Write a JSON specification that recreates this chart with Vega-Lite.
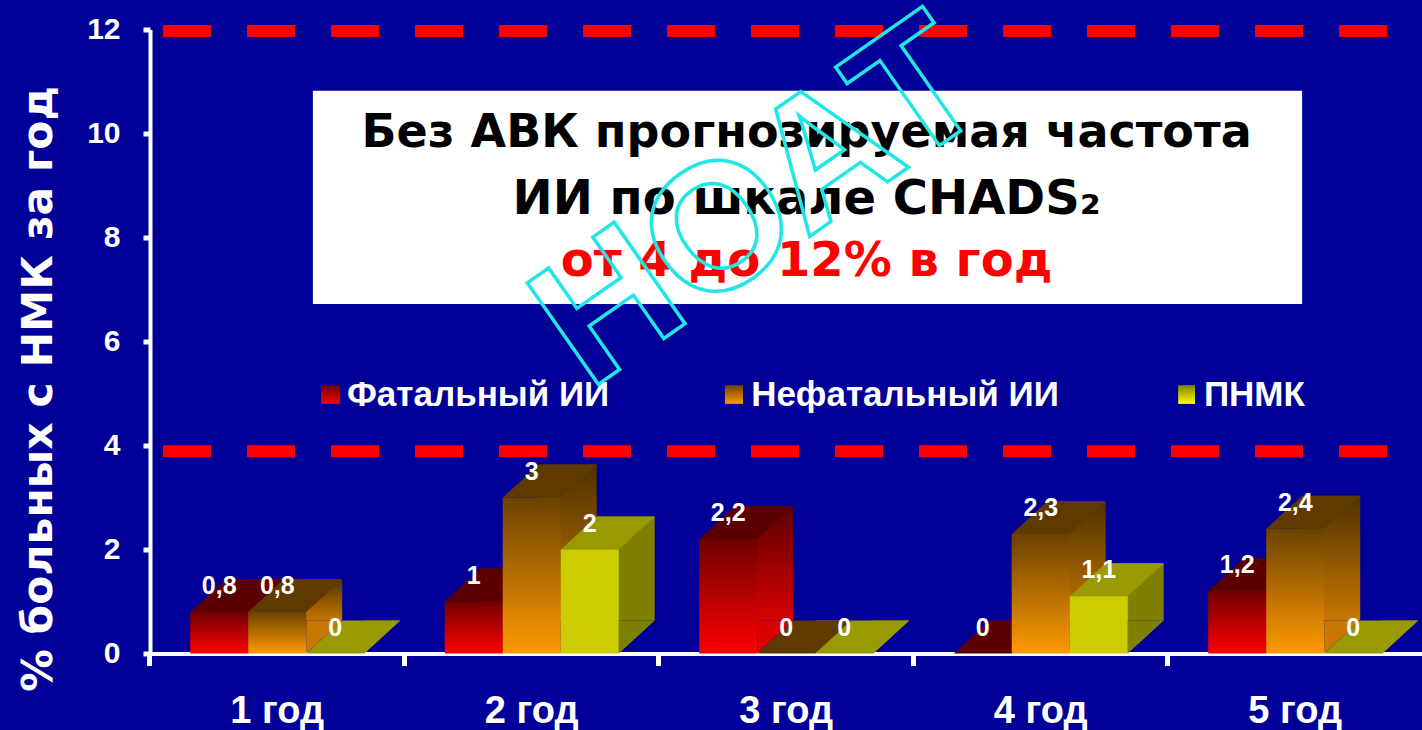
{
  "$schema": "https://vega.github.io/schema/vega-lite/v6.json",
  "width": 1272.5,
  "height": 624,
  "autosize": "none",
  "padding": {"left": 150, "top": 29.5, "right": 0, "bottom": 76.5},
  "background": "#000099",
  "config": {"view": {"stroke": null}},
  "datasets": {
    "bars": [
      {"year": "1 год", "series": "Фатальный ИИ", "value": 0.8, "label": "0,8"},
      {"year": "1 год", "series": "Нефатальный ИИ", "value": 0.8, "label": "0,8"},
      {"year": "1 год", "series": "ПНМК", "value": 0, "label": "0"},
      {"year": "2 год", "series": "Фатальный ИИ", "value": 1, "label": "1"},
      {"year": "2 год", "series": "Нефатальный ИИ", "value": 3, "label": "3"},
      {"year": "2 год", "series": "ПНМК", "value": 2, "label": "2"},
      {"year": "3 год", "series": "Фатальный ИИ", "value": 2.2, "label": "2,2"},
      {"year": "3 год", "series": "Нефатальный ИИ", "value": 0, "label": "0"},
      {"year": "3 год", "series": "ПНМК", "value": 0, "label": "0"},
      {"year": "4 год", "series": "Фатальный ИИ", "value": 0, "label": "0"},
      {"year": "4 год", "series": "Нефатальный ИИ", "value": 2.3, "label": "2,3"},
      {"year": "4 год", "series": "ПНМК", "value": 1.1, "label": "1,1"},
      {"year": "5 год", "series": "Фатальный ИИ", "value": 1.2, "label": "1,2"},
      {"year": "5 год", "series": "Нефатальный ИИ", "value": 2.4, "label": "2,4"},
      {"year": "5 год", "series": "ПНМК", "value": 0, "label": "0"}
    ],
    "limits": [
      {"from": 0.051, "to": 4.861, "level": 11.97},
      {"from": 0.051, "to": 4.861, "level": 3.89}
    ],
    "box": [{"from": 0.64, "to": 4.527, "low": 6.72, "high": 10.82}],
    "headline": [
      {"text": "Без АВК прогнозируемая частота", "at": 2.58, "level": 10.01, "tone": "black"},
      {"text": "ИИ по шкале CHADS₂", "at": 2.58, "level": 8.72, "tone": "black"},
      {"text": "от 4 до 12% в год", "at": 2.58, "level": 7.53, "tone": "red"}
    ],
    "key": [
      {"series": "Фатальный ИИ", "from": 0.672, "to": 0.747, "low": 4.8, "high": 5.16, "textAt": 0.774, "level": 4.97},
      {"series": "Нефатальный ИИ", "from": 2.259, "to": 2.33, "low": 4.8, "high": 5.16, "textAt": 2.362, "level": 4.97},
      {"series": "ПНМК", "from": 4.04, "to": 4.106, "low": 4.8, "high": 5.16, "textAt": 4.141, "level": 4.97}
    ],
    "stamp": [{"text": "НОАТ", "at": 2.4, "level": 8.63}]
  },
  "resolve": {"scale": {"x": "independent"}},
  "layer": [
    {
      "data": {"name": "bars"},
      "resolve": {"scale": {"xOffset": "independent"}},
      "encoding": {
        "x": {
          "field": "year",
          "type": "nominal",
          "scale": {"paddingInner": 0.316, "paddingOuter": 0.158},
          "axis": {
            "title": null,
            "labelAngle": 0,
            "labelColor": "white",
            "labelFont": "Liberation Sans",
            "labelFontWeight": "bold",
            "labelFontSize": 38,
            "labelPadding": 46,
            "labelBaseline": "middle",
            "domainColor": "white",
            "domainWidth": 4,
            "tickColor": "white",
            "tickWidth": 5,
            "tickSize": 12,
            "bandPosition": -0.231
          }
        },
        "xOffset": {
          "field": "series",
          "type": "nominal",
          "sort": ["Фатальный ИИ", "Нефатальный ИИ", "ПНМК"],
          "scale": {"type": "band", "paddingInner": 0, "paddingOuter": 0}
        },
        "y": {
          "field": "value",
          "type": "quantitative",
          "stack": null,
          "scale": {"domain": [0, 12], "nice": false},
          "axis": {
            "title": "% больных с НМК за год",
            "titleColor": "white",
            "titleFont": "DejaVu Sans",
            "titleFontWeight": "bold",
            "titleFontSize": 42.5,
            "titleAlign": "center",
            "titleBaseline": "middle",
            "titleAnchor": "middle",
            "titleX": -112,
            "titleY": 359,
            "values": [0, 2, 4, 6, 8, 10, 12],
            "grid": false,
            "labelColor": "white",
            "labelFont": "Liberation Sans",
            "labelFontWeight": "bold",
            "labelFontSize": 30,
            "labelPadding": 23,
            "domainColor": "white",
            "domainWidth": 4,
            "tickColor": "white",
            "tickWidth": 5,
            "tickSize": 7
          }
        }
      },
      "layer": [
        {
          "description": "Side faces: each bar repeated one depth step back and up",
          "mark": {"type": "bar", "yOffset": -33, "y2Offset": -33},
          "encoding": {
            "xOffset": {
              "field": "series",
              "type": "nominal",
              "sort": ["Фатальный ИИ", "Нефатальный ИИ", "ПНМК"],
              "scale": {"type": "band", "paddingInner": 0, "paddingOuter": 0, "range": [36, 210]}
            },
            "y2": {"datum": 0},
            "fill": {
              "condition": [
                {"test": "datum.series === 'Фатальный ИИ'", "value": {"gradient": "linear", "x1": 0, "y1": 0, "x2": 0, "y2": 1, "stops": [{"offset": 0, "color": "#5c0000"}, {"offset": 1, "color": "#d80000"}]}},
                {"test": "datum.series === 'Нефатальный ИИ'", "value": {"gradient": "linear", "x1": 0, "y1": 0, "x2": 0, "y2": 1, "stops": [{"offset": 0, "color": "#4f3100"}, {"offset": 1, "color": "#c87800"}]}}
              ],
              "value": "#808000"
            }
          }
        },
        {
          "description": "Lower corner of each side face, down to the floor",
          "mark": {"type": "point", "filled": true, "opacity": 1, "size": 4, "shape": "M29 0 L65 -33 L29 -33 Z"},
          "encoding": {
            "y": {"datum": 0},
            "color": {
              "condition": [
                {"test": "datum.series === 'Фатальный ИИ'", "value": "#d80000"},
                {"test": "datum.series === 'Нефатальный ИИ'", "value": "#c87800"}
              ],
              "value": "#808000"
            }
          }
        },
        {
          "description": "Top faces",
          "mark": {"type": "point", "filled": true, "opacity": 1, "size": 4, "shape": "M-29 0 L29 0 L65 -33 L7 -33 Z"},
          "encoding": {
            "color": {
              "condition": [
                {"test": "datum.series === 'Фатальный ИИ'", "value": "#5a0000"},
                {"test": "datum.series === 'Нефатальный ИИ'", "value": "#5e3a00"}
              ],
              "value": "#999900"
            }
          }
        },
        {
          "description": "Front faces",
          "mark": {"type": "bar"},
          "encoding": {
            "fill": {
              "condition": [
                {"test": "datum.series === 'Фатальный ИИ'", "value": {"gradient": "linear", "x1": 0, "y1": 0, "x2": 0, "y2": 1, "stops": [{"offset": 0, "color": "#700000"}, {"offset": 1, "color": "#ff0000"}]}},
                {"test": "datum.series === 'Нефатальный ИИ'", "value": {"gradient": "linear", "x1": 0, "y1": 0, "x2": 0, "y2": 1, "stops": [{"offset": 0, "color": "#6b4200"}, {"offset": 1, "color": "#ff9900"}]}}
              ],
              "value": "#cccc00"
            }
          }
        },
        {
          "mark": {"type": "text", "color": "white", "font": "Liberation Sans", "fontWeight": "bold", "fontSize": 25, "baseline": "middle", "dy": -26},
          "encoding": {"text": {"field": "label", "type": "nominal"}}
        }
      ]
    },
    {
      "layer": [
        {
          "description": "Upper and lower limits of the predicted rate",
          "data": {"name": "limits"},
          "mark": {"type": "rule", "color": "#ff0000", "strokeWidth": 12, "strokeDash": [48, 36]},
          "encoding": {
            "x": {"field": "from", "type": "quantitative", "scale": {"domain": [0, 5], "nice": false}, "axis": null},
            "x2": {"field": "to"},
            "y": {"field": "level", "type": "quantitative"}
          }
        },
        {
          "data": {"name": "box"},
          "mark": {"type": "rect", "color": "white"},
          "encoding": {
            "x": {"field": "from", "type": "quantitative", "scale": {"domain": [0, 5], "nice": false}, "axis": null},
            "x2": {"field": "to"},
            "y": {"field": "low", "type": "quantitative"},
            "y2": {"field": "high"}
          }
        },
        {
          "data": {"name": "headline"},
          "mark": {"type": "text", "font": "DejaVu Sans", "fontWeight": "bold", "baseline": "middle", "align": "center"},
          "encoding": {
            "x": {"field": "at", "type": "quantitative", "scale": {"domain": [0, 5], "nice": false}, "axis": null},
            "y": {"field": "level", "type": "quantitative"},
            "text": {"field": "text", "type": "nominal"},
            "size": {"condition": {"test": "datum.level > 9", "value": 46}, "value": 48},
            "color": {"condition": {"test": "datum.tone === 'red'", "value": "#ff0000"}, "value": "#000000"}
          }
        },
        {
          "data": {"name": "key"},
          "mark": {"type": "rect"},
          "encoding": {
            "x": {"field": "from", "type": "quantitative", "scale": {"domain": [0, 5], "nice": false}, "axis": null},
            "x2": {"field": "to"},
            "y": {"field": "low", "type": "quantitative"},
            "y2": {"field": "high"},
            "fill": {
              "condition": [
                {"test": "datum.series === 'Фатальный ИИ'", "value": {"gradient": "linear", "x1": 0, "y1": 0, "x2": 0, "y2": 1, "stops": [{"offset": 0, "color": "#700000"}, {"offset": 1, "color": "#ff0000"}]}},
                {"test": "datum.series === 'Нефатальный ИИ'", "value": {"gradient": "linear", "x1": 0, "y1": 0, "x2": 0, "y2": 1, "stops": [{"offset": 0, "color": "#6b4200"}, {"offset": 1, "color": "#ff9900"}]}}
              ],
              "value": {"gradient": "linear", "x1": 0, "y1": 0, "x2": 0, "y2": 1, "stops": [{"offset": 0, "color": "#808000"}, {"offset": 1, "color": "#ffff00"}]}
            }
          }
        },
        {
          "data": {"name": "key"},
          "mark": {"type": "text", "color": "white", "font": "Liberation Sans", "fontWeight": "bold", "fontSize": 35, "baseline": "middle", "align": "left"},
          "encoding": {
            "x": {"field": "textAt", "type": "quantitative", "scale": {"domain": [0, 5], "nice": false}, "axis": null},
            "y": {"field": "level", "type": "quantitative"},
            "text": {"field": "series", "type": "nominal"}
          }
        },
        {
          "data": {"name": "stamp"},
          "mark": {"type": "text", "font": "Liberation Sans", "fontWeight": "bold", "fontSize": 180, "baseline": "middle", "align": "center", "angle": 325, "fillOpacity": 0, "stroke": "#22e6e6", "strokeWidth": 3.5},
          "encoding": {
            "x": {"field": "at", "type": "quantitative", "scale": {"domain": [0, 5], "nice": false}, "axis": null},
            "y": {"field": "level", "type": "quantitative"},
            "text": {"field": "text", "type": "nominal"}
          }
        }
      ]
    }
  ]
}
